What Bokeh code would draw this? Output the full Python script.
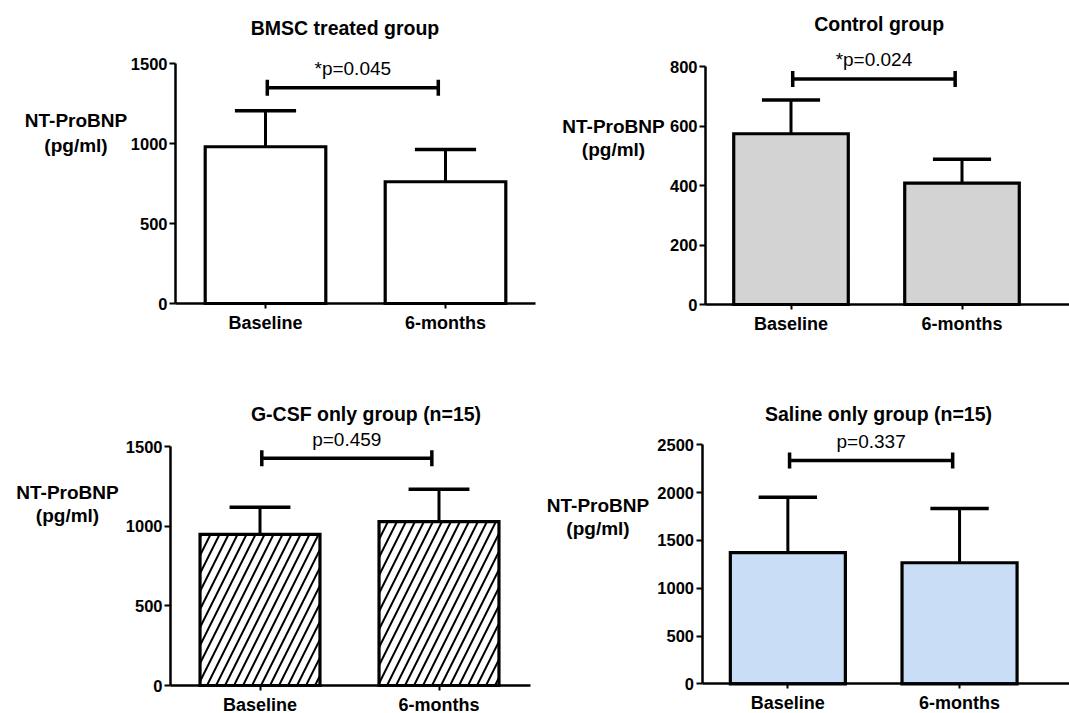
import math
from bokeh.plotting import figure
from bokeh.layouts import column, row
from bokeh.models import Range1d, FixedTicker, Label
from bokeh.core.properties import value
from bokeh.embed import file_html
from bokeh.resources import INLINE

# ---------------- data ----------------
categories = ["Baseline", "6-months"]

titles = ["BMSC treated group", "Control group",
          "G-CSF only group (n=15)", "Saline only group (n=15)"]
p_labels = ["*p=0.045", "*p=0.024", "p=0.459", "p=0.337"]

bmsc_mean = [981, 762]
bmsc_sem = [225, 202]
control_mean = [574, 408]
control_sem = [113, 80]
gcsf_mean = [948, 1029]
gcsf_sem = [171, 203]
saline_mean = [1373, 1266]
saline_sem = [579, 568]

bracket_heights = [1350, 758, 1426, 2336]

y_ticks_bmsc = [0, 500, 1000, 1500]
y_ticks_control = [0, 200, 400, 600, 800]
y_ticks_gcsf = [0, 500, 1000, 1500]
y_ticks_saline = [0, 500, 1000, 1500, 2000, 2500]

y_label_lines = ["NT-ProBNP", "(pg/ml)"]

# ---------------- styling / layout ----------------
FONT = "Liberation Sans"

styles = [
    dict(fill_color="white"),
    dict(fill_color="#d3d3d3"),
    dict(fill_color="white", hatch_pattern="/", hatch_color="black",
         hatch_weight=2, hatch_scale=18),
    dict(fill_color="#c9ddf6"),
]

# page-pixel geometry of each panel (canvas origin/size, axis origin, scales)
layouts = [
    dict(ox=0, oy=0, w=545, h=350, ax=175, ay=303, axis_px=239.7, cat_px=180, x_end_px=535,
         title=(344.5, 27.5), ylab_x=75.5, ylab_y=(119.5, 145)),
    dict(ox=545, oy=0, w=524, h=350, ax=705, ay=304, axis_px=238, cat_px=171, x_end_px=1069,
         title=(878.7, 23.5), ylab_x=613, ylab_y=(126, 149)),
    dict(ox=0, oy=350, w=545, h=363, ax=170, ay=685, axis_px=239, cat_px=179, x_end_px=530,
         title=(365.5, 413), ylab_x=67, ylab_y=(491.5, 515)),
    dict(ox=545, oy=350, w=524, h=363, ax=701.5, ay=683.3, axis_px=239, cat_px=171.7, x_end_px=1069,
         title=(878, 413), ylab_x=597.5, ylab_y=(505, 528)),
]


def make_panel(i, means, sems, yticks):
    L = layouts[i]
    ypu = yticks[-1] / L["axis_px"]          # data units per pixel (y)
    x0 = -(L["ax"] - L["ox"]) / L["cat_px"]
    x1 = (L["ox"] + L["w"] - L["ax"]) / L["cat_px"]
    y0 = -(L["oy"] + L["h"] - L["ay"]) * ypu
    y1 = (L["ay"] - L["oy"]) * ypu

    p = figure(width=L["w"], height=L["h"], title=None,
               x_range=Range1d(x0, x1), y_range=Range1d(y0, y1),
               min_border=0, min_border_left=0, min_border_right=0,
               min_border_top=0, min_border_bottom=0,
               output_backend="svg", toolbar_location=None, tools="")
    p.outline_line_color = None
    p.xgrid.visible = False
    p.ygrid.visible = False
    p.background_fill_color = "white"
    p.border_fill_color = "white"

    xs = [k + 0.5 for k in range(len(categories))]
    tops = [m + s for m, s in zip(means, sems)]

    # error bars
    p.segment(x0=xs, y0=means, x1=xs, y1=tops, line_color="black", line_width=3)
    p.segment(x0=[x - 0.17 for x in xs], x1=[x + 0.17 for x in xs], y0=tops, y1=tops,
              line_color="black", line_width=3.5)

    # bars
    p.vbar(x=xs, top=means, bottom=0, width=0.67, line_color="black", line_width=3.2,
           line_join="miter", **styles[i])

    # significance bracket
    bx = [0.51, 1.46]
    b = bracket_heights[i]
    p.segment(x0=[bx[0]], x1=[bx[1]], y0=[b], y1=[b], line_color="black", line_width=3.5)
    p.scatter(x=bx, y=[b, b], marker="dash", angle=math.pi / 2, size=16,
              line_color="black", line_width=3.5)
    p.text(x=[sum(bx) / 2], y=[b], text=[p_labels[i]], text_align="center",
           text_baseline="middle", y_offset=-19, text_color="black",
           text_font=value(FONT), text_font_size="19px")

    # axes (placed at data zero, drawn inside the full-canvas frame)
    xa = p.xaxis[0]
    xa.fixed_location = 0
    xa.bounds = (0, (L["x_end_px"] - L["ax"]) / L["cat_px"])
    xa.ticker = FixedTicker(ticks=xs)
    xa.major_label_overrides = {x: c for x, c in zip(xs, categories)}
    xa.minor_tick_line_color = None
    xa.major_tick_in = 0
    xa.major_tick_out = 5
    xa.major_tick_line_width = 2
    xa.axis_line_width = 2.5
    xa.axis_line_color = "black"
    xa.major_tick_line_color = "black"
    xa.major_label_standoff = 4
    xa.major_label_text_font = FONT
    xa.major_label_text_font_style = "bold"
    xa.major_label_text_font_size = "18px"
    xa.major_label_text_color = "black"

    ya = p.yaxis[0]
    ya.fixed_location = 0
    ya.ticker = FixedTicker(ticks=yticks)
    ya.bounds = (yticks[0], yticks[-1])
    ya.minor_tick_line_color = None
    ya.major_tick_in = 0
    ya.major_tick_out = 6
    ya.major_tick_line_width = 2
    ya.axis_line_width = 2.5
    ya.axis_line_color = "black"
    ya.major_tick_line_color = "black"
    ya.major_label_standoff = 2
    ya.major_label_text_font = FONT
    ya.major_label_text_font_style = "bold"
    ya.major_label_text_font_size = "16.5px"
    ya.major_label_text_color = "black"

    # title
    tx, ty = L["title"]
    p.add_layout(Label(x=tx - L["ox"], y=L["oy"] + L["h"] - ty, x_units="screen",
                       y_units="screen", text=titles[i], text_align="center",
                       text_baseline="middle", text_font=FONT, text_font_style="bold",
                       text_font_size="19.5px", text_color="black"))
    # y label (horizontal, two lines)
    for line, ly in zip(y_label_lines, L["ylab_y"]):
        p.add_layout(Label(x=L["ylab_x"] - L["ox"], y=L["oy"] + L["h"] - ly, x_units="screen",
                           y_units="screen", text=line, text_align="center",
                           text_baseline="middle", text_font=FONT, text_font_style="bold",
                           text_font_size="19px", text_color="black"))
    return p


p1 = make_panel(0, bmsc_mean, bmsc_sem, y_ticks_bmsc)
p2 = make_panel(1, control_mean, control_sem, y_ticks_control)
p3 = make_panel(2, gcsf_mean, gcsf_sem, y_ticks_gcsf)
p4 = make_panel(3, saline_mean, saline_sem, y_ticks_saline)

layout = column(row(p1, p2, spacing=0), row(p3, p4, spacing=0), spacing=0)

open("out.html", "w").write(file_html(layout, INLINE))
